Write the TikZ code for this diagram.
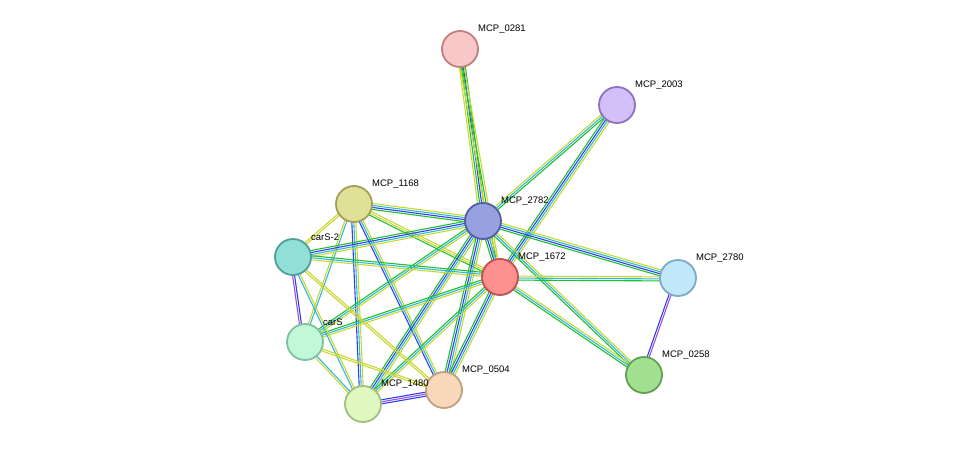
\documentclass[tikz,border=0pt]{standalone}
\usepackage{fontspec}
\setmainfont{Liberation Sans}
\usetikzlibrary{calc}

\definecolor{tgreen}{HTML}{1FBF2F}
\definecolor{tblue}{HTML}{2F3FF0}
\definecolor{tcyan}{HTML}{2FB8D8}
\definecolor{tyell}{HTML}{C8D830}
\definecolor{tpurp}{HTML}{A050D0}

\tikzset{
  prot/.style={circle, minimum size=36pt, inner sep=0pt, line width=1.8pt},
  lbl/.style={anchor=west, font=\fontsize{9.5}{11}\selectfont, inner sep=0pt},
}

% bundle of parallel coloured lines between two nodes
\newcommand\link[3]{%
  \foreach \c [count=\i] in {#3} {
    \draw[\c, line width=1.1pt]
      ($(#1)!{(\i-2.5)*2pt}!90:(#2)$) -- ($(#2)!{(\i-2.5)*2pt}!-90:(#1)$);
  }}

\begin{document}
\begin{tikzpicture}[x=1pt, y=-1pt]
  \useasboundingbox (0,0) rectangle (975,450);

  % proteins
  \coordinate (n0281) at (460,49);
  \coordinate (n2003) at (617,105);
  \coordinate (n1168) at (354,204);
  \coordinate (n2782) at (483,221);
  \coordinate (ncarS2) at (293,257);
  \coordinate (n1672) at (500,277);
  \coordinate (n2780) at (678,278);
  \coordinate (ncarS) at (305,342);
  \coordinate (n0258) at (644,375);
  \coordinate (n0504) at (444,390);
  \coordinate (n1480) at (363,404);

  % links
  \link{n0281}{n2782}{tyell,tgreen,tblue,tgreen}
  \link{n0281}{n1672}{tyell,tgreen,tyell}
  \link{n2003}{n2782}{tyell,tcyan,tgreen}
  \link{n2003}{n1672}{tgreen,tblue,tcyan,tyell}
  \link{n1168}{n2782}{tgreen,tblue,tcyan,tyell}
  \link{n1168}{n1672}{tgreen,tyell,tyell}
  \link{n1168}{ncarS2}{tyell,tyell}
  \link{n1168}{ncarS}{tyell,tcyan}
  \link{n1168}{n1480}{tblue,tcyan,tyell}
  \link{n1168}{n0504}{tblue,tcyan,tyell}
  \link{n2782}{ncarS2}{tgreen,tblue,tcyan,tyell}
  \link{n2782}{ncarS}{tgreen,tcyan,tyell}
  \link{n2782}{n1480}{tgreen,tblue,tcyan,tyell}
  \link{n2782}{n0504}{tgreen,tblue,tcyan,tyell}
  \link{n2782}{n2780}{tgreen,tblue,tcyan,tyell}
  \link{n2782}{n0258}{tgreen,tcyan,tyell}
  \link{n2782}{n1672}{tgreen,tblue,tcyan,tyell}
  \link{n1672}{ncarS2}{tgreen,tcyan,tyell}
  \link{n1672}{ncarS}{tgreen,tcyan,tyell}
  \link{n1672}{n1480}{tgreen,tcyan,tyell}
  \link{n1672}{n0504}{tgreen,tblue,tcyan,tyell}
  \link{n1672}{n2780}{tgreen,tcyan,tyell}
  \link{n1672}{n0258}{tgreen,tcyan,tyell}
  \link{ncarS2}{ncarS}{tpurp,tblue}
  \link{ncarS2}{n1480}{tcyan,tyell}
  \link{ncarS2}{n0504}{tyell,tyell}
  \link{ncarS}{n1480}{tyell,tcyan}
  \link{ncarS}{n0504}{tyell,tyell}
  \link{n1480}{n0504}{tblue,tpurp,tblue}
  \link{n2780}{n0258}{tblue,tpurp}

  % nodes on top
  \foreach \n/\f/\d/\t in {
      n0281/F8C8C8/C08080/MCP\_0281, n2003/D4C0F8/9070C0/MCP\_2003,
      n1168/E0E098/A0A058/MCP\_1168, n2782/98A0E0/5060A0/MCP\_2782,
      ncarS2/90E0D8/50A098/carS-2, n1672/FF9090/C05050/MCP\_1672,
      n2780/C0E8F8/80A8C8/MCP\_2780, ncarS/C0F8D8/80C0A0/carS,
      n0258/A0E090/60A050/MCP\_0258, n0504/F8D8B8/C0A080/MCP\_0504,
      n1480/E0F8C0/A0C080/MCP\_1480} {
    \definecolor{fc}{HTML}{\f}
    \definecolor{dc}{HTML}{\d}
    \node[prot, fill=fc, draw=dc] (\n-c) at (\n) {};
    \node[lbl] (\n-l) at ($(\n)+(18,-20)$) {\t};
  }
\end{tikzpicture}
\end{document}
